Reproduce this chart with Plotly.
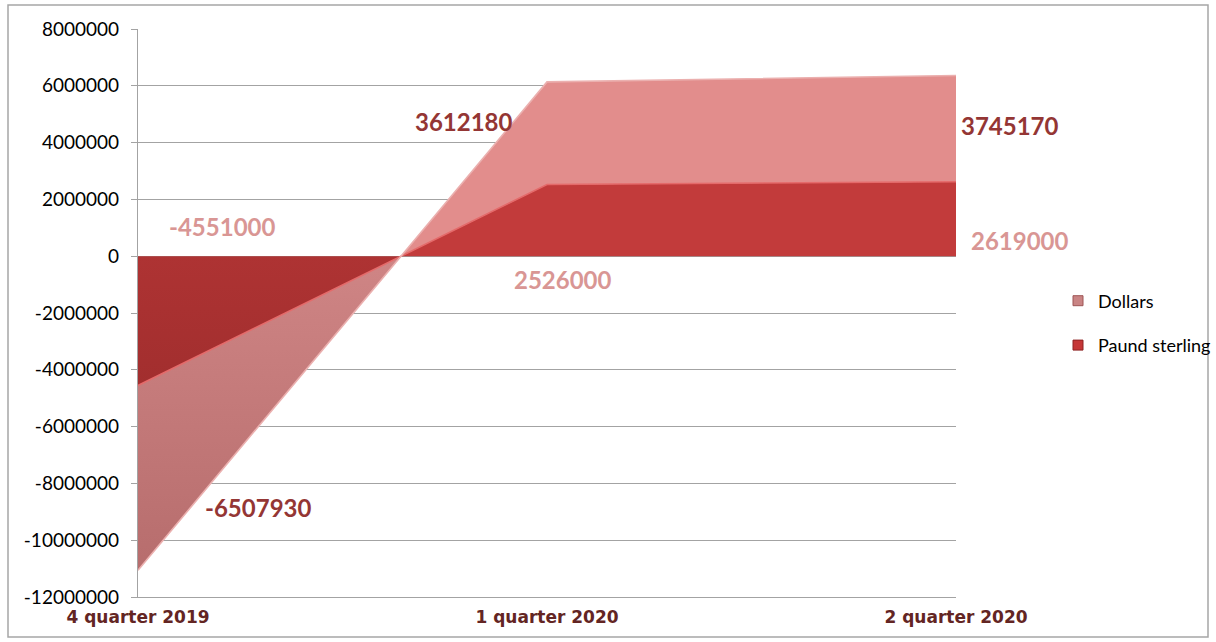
import plotly.graph_objects as go

# ---- data ----
categories = ["4 quarter 2019", "1 quarter 2020", "2 quarter 2020"]
pound = [-4551000, 2526000, 2619000]
dollars = [-6507930, 3612180, 3745170]
y_ticks = [8000000, 6000000, 4000000, 2000000, 0, -2000000, -4000000,
           -6000000, -8000000, -10000000, -12000000]

# ---- layout constants ----
W, H = 1216, 642
ML, MR, MT, MB = 138, 260, 29, 45
PW, PH = W - ML - MR, H - MT - MB
Y_MIN, Y_MAX = -12000000, 8000000

def px_to_paper(px, py):
    return (px - ML) / PW, (H - MB - py) / PH

x = list(range(len(categories)))
stacked = [p + d for p, d in zip(pound, dollars)]
split = (0 - Y_MIN) / (Y_MAX - Y_MIN)

MAROON = "#943634"
PINK = "#D99694"
DARK = "#632523"
GRID = "#A3A3A3"

fig = go.Figure()

fig.add_trace(go.Scatter(
    x=x, y=pound, stackgroup="s", mode="lines", name="Paund sterling",
    line=dict(color="#E46A6A", width=1.6),
    fillgradient=dict(type="vertical", start=Y_MIN, stop=Y_MAX,
                      colorscale=[[0, "#8E2626"], [split, "#AE3333"],
                                  [split, "#C23B3B"], [1, "#C23B3B"]]),
    showlegend=False, hoverinfo="skip"))

fig.add_trace(go.Scatter(
    x=x, y=dollars, stackgroup="s", mode="lines", name="Dollars",
    line=dict(color="#EBB0AF", width=1.6),
    fillgradient=dict(type="vertical", start=Y_MIN, stop=Y_MAX,
                      colorscale=[[0, "#B56B6B"], [split, "#CF8585"],
                                  [split, "#E28D8C"], [1, "#E28D8C"]]),
    showlegend=False, hoverinfo="skip"))

# legend entries
fig.add_trace(go.Scatter(x=[None], y=[None], mode="markers", name="Dollars",
                         legendgroup="d",
                         marker=dict(symbol="square", size=10, color="#C98484",
                                     line=dict(color="#9E5555", width=1))))
fig.add_trace(go.Scatter(x=[None], y=[None], mode="markers", name="Paund sterling",
                         legendgroup="p",
                         marker=dict(symbol="square", size=10, color="#C53636",
                                     line=dict(color="#8E2222", width=1))))

label_font = dict(family="Lato", size=24, weight="bold")
labels = [
    (0, pound[0], pound[0], PINK, 84, 159),
    (0, stacked[0], dollars[0], MAROON, 120, 63),
    (1, stacked[1], dollars[1], MAROON, -83, -40),
    (1, pound[1], pound[1], PINK, 16, -95),
    (2, stacked[2], dollars[2], MAROON, 54, -50),
    (2, pound[2], pound[2], PINK, 64, -59),
]
for xi, yv, val, col, xs, ys in labels:
    fig.add_annotation(x=xi, y=yv, text=str(val), showarrow=False,
                       xshift=xs, yshift=ys,
                       font=dict(color=col, **label_font))

bx0, by0 = px_to_paper(8, 637)
bx1, by1 = px_to_paper(1208, 5)
fig.add_shape(type="rect", xref="paper", yref="paper",
              x0=bx0, y0=by0, x1=bx1, y1=by1,
              line=dict(color="#A6A6A6", width=1.5), layer="below")

lx, ly = px_to_paper(1058, 323)

fig.update_layout(
    width=W, height=H,
    margin=dict(l=ML, r=MR, t=MT, b=MB, autoexpand=False),
    paper_bgcolor="white", plot_bgcolor="white",
    showlegend=True,
    legend=dict(x=lx, y=ly, xanchor="left", yanchor="middle",
                font=dict(family="Lato", size=18, color="black"),
                bgcolor="rgba(0,0,0,0)", tracegroupgap=18,
                itemclick=False),
    xaxis=dict(range=[0, 2], tickvals=x, ticktext=categories,
               showgrid=False, zeroline=False, showline=True,
               linecolor=GRID, linewidth=1.3, ticks="",
               ticklabelstandoff=4, automargin=False,
               tickfont=dict(family="DejaVu Sans", size=17, color=DARK,
                             weight="bold")),
    yaxis=dict(range=[Y_MIN, Y_MAX], tickvals=y_ticks,
               ticktext=[str(v) for v in y_ticks],
               showgrid=True, gridcolor=GRID, gridwidth=1.3,
               zeroline=True, zerolinecolor=GRID, zerolinewidth=1.3,
               showline=True, linecolor=GRID, linewidth=1.3,
               ticks="outside", ticklen=6, tickcolor=GRID, tickwidth=1.3,
               ticklabelstandoff=8, automargin=False,
               tickfont=dict(family="Lato", size=19, color="black")),
)

fig.write_html("out.html",
               config=dict(displayModeBar=False),
               post_script="document.body.style.margin='0';"
                           "document.body.style.overflow='hidden';")
